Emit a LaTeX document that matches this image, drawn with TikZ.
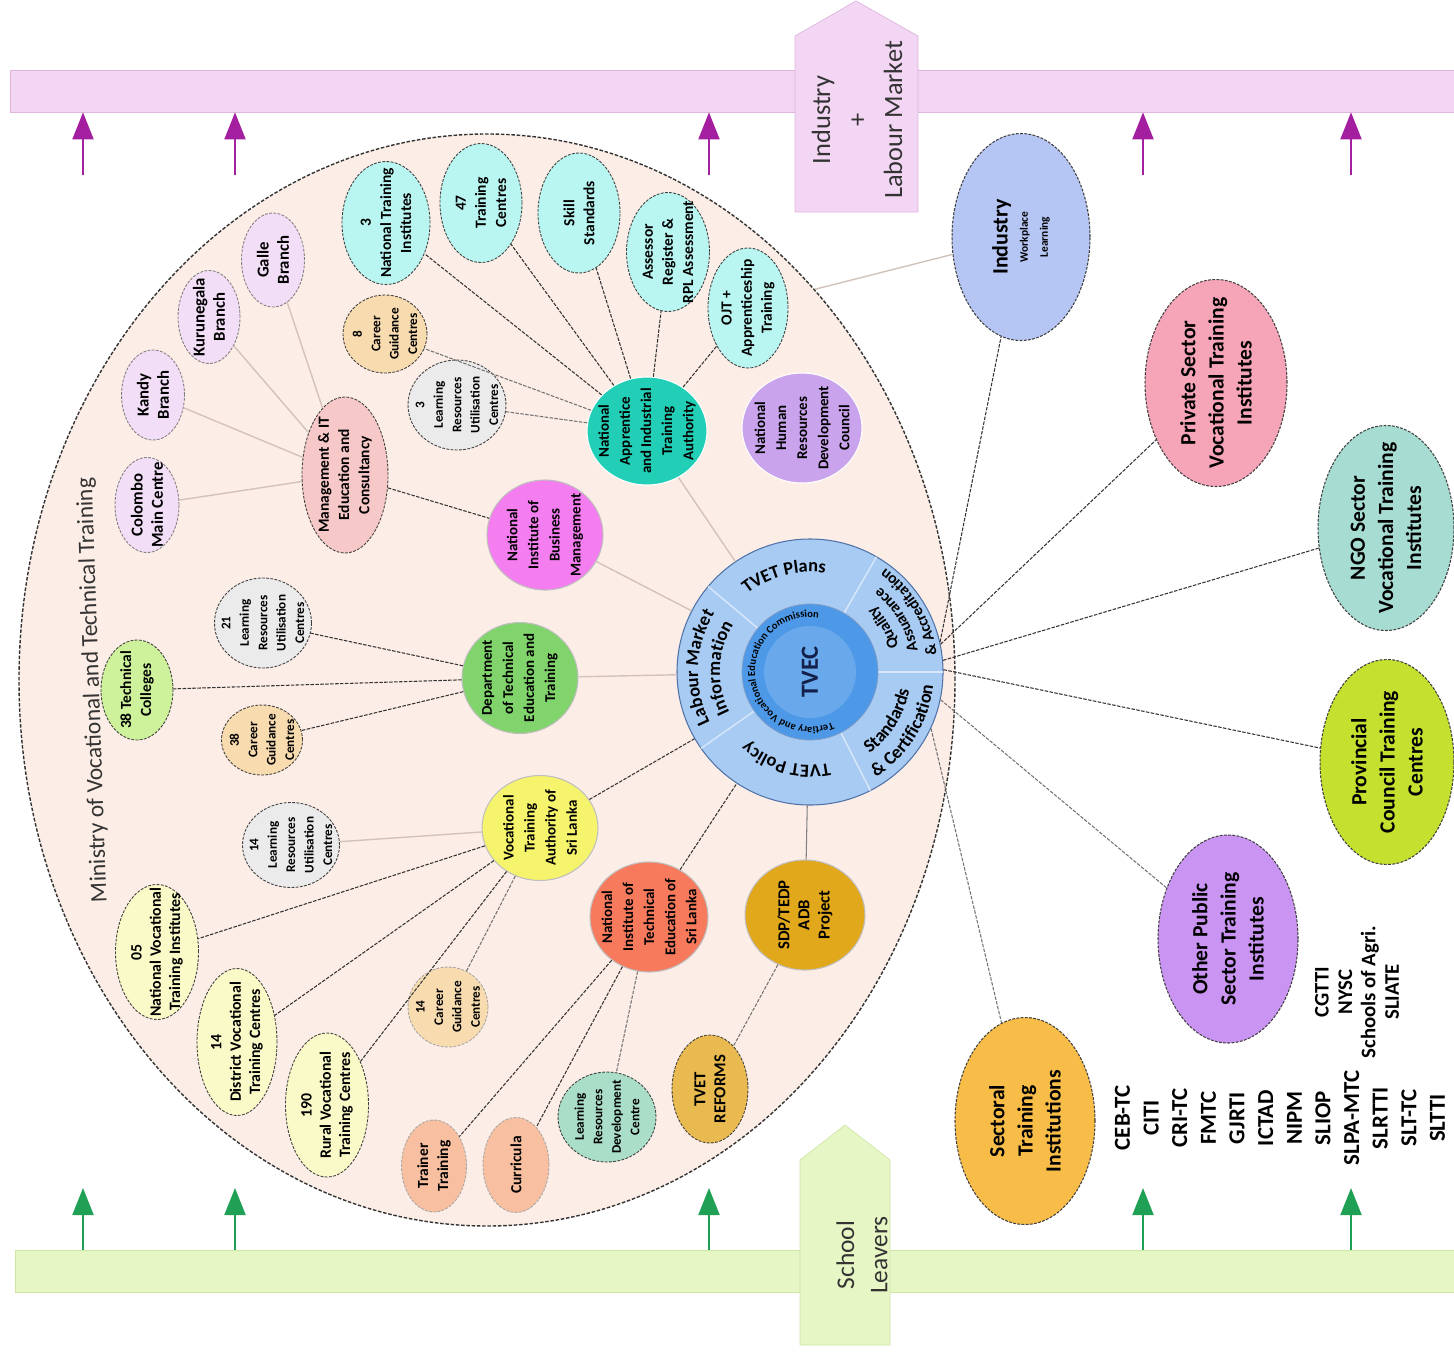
\documentclass[tikz,border=0pt]{standalone}
\usepackage{fontspec}
\setmainfont{Carlito}
\usetikzlibrary{shapes.geometric,arrows.meta,decorations.text}

\definecolor{barpink}{HTML}{F3D6F3}
\definecolor{barpinkline}{HTML}{DDB5DD}
\definecolor{bargreen}{HTML}{E6F6C4}
\definecolor{bargreenline}{HTML}{CFE6A6}
\definecolor{arrpurple}{HTML}{A41EA0}
\definecolor{arrgreen}{HTML}{20A055}
\definecolor{peach}{HTML}{FCEEE6}
\definecolor{branch}{HTML}{F3DEF7}
\definecolor{mgtpink}{HTML}{F7C8C8}
\definecolor{aqua}{HTML}{B9F6F2}
\definecolor{cgcpeach}{HTML}{F8DCAF}
\definecolor{lrucgray}{HTML}{EBEBEB}
\definecolor{naitateal}{HTML}{22CFB6}
\definecolor{hrdclav}{HTML}{C9A3EC}
\definecolor{nibmpink}{HTML}{F47DF0}
\definecolor{tcgreen}{HTML}{CEF29B}
\definecolor{dtetgreen}{HTML}{80D46B}
\definecolor{vtayellow}{HTML}{F6F46C}
\definecolor{paleyellow}{HTML}{FAFAC8}
\definecolor{salmon}{HTML}{F8C0A0}
\definecolor{lrdcteal}{HTML}{AADEC8}
\definecolor{reformgold}{HTML}{E9BA50}
\definecolor{coral}{HTML}{F77A5C}
\definecolor{sdpgold}{HTML}{E2A81C}
\definecolor{ringblue}{HTML}{A8CBF4}
\definecolor{coreblue}{HTML}{4D99E8}
\definecolor{ringline}{HTML}{4F72A8}
\definecolor{navy}{HTML}{14204A}
\definecolor{indblue}{HTML}{B6C6F4}
\definecolor{privpink}{HTML}{F6A4B7}
\definecolor{ngoteal}{HTML}{A7DCD3}
\definecolor{provlime}{HTML}{C5E02F}
\definecolor{opubpurple}{HTML}{CA94F3}
\definecolor{sectorange}{HTML}{F8BD49}
\definecolor{linegray}{HTML}{D2C2BA}

\newcommand\ringfont{\bfseries\fontsize{10.5}{10.5}\selectfont}
\newcommand\ringsmall{\bfseries\fontsize{9}{9}\selectfont}
\newcommand\tinyring{\bfseries\fontsize{6}{6}\selectfont}

\tikzset{
  bar/.style={draw, minimum height=42*0.2mm, inner sep=0pt},
  bartxt/.style={rotate=90, align=center, text=black!80, font=\fontsize{15}{20.5}\selectfont},
  uparrow/.style={line width=0.4mm, -{Triangle[length=5.4mm, width=4.2mm]}},
  org/.style={ellipse, draw=black!75, dash pattern=on 1.6pt off 0.8pt, line width=0.5pt, inner sep=0pt},
  agency/.style={ellipse, draw=black!25, line width=0.6pt, inner sep=0pt},
  outer/.style={ellipse, draw=black!75, dash pattern=on 1.6pt off 0.8pt, line width=0.6pt, inner sep=0pt},
  sz/.style 2 args={minimum width=#1*0.2mm, minimum height=#2*0.2mm},
  tx/.style={rotate=90, align=center, font=\bfseries\fontsize{9.5}{11.5}\selectfont},
  txm/.style={tx, font=\bfseries\fontsize{8.8}{11.5}\selectfont},
  txs/.style={tx, font=\bfseries\fontsize{7.5}{10.5}\selectfont},
  txa/.style={tx, font=\bfseries\fontsize{8.5}{12}\selectfont},
  txv/.style={tx, font=\bfseries\fontsize{9}{11}\selectfont},
  txo/.style={tx, font=\bfseries\fontsize{12.3}{16}\selectfont},
  dk/.style={draw=black!80, dash pattern=on 2pt off 0.8pt, line width=0.6pt},
  md/.style={draw=black!55, dash pattern=on 2pt off 0.8pt, line width=0.6pt},
  lt/.style={draw=linegray, line width=0.8pt},
  divline/.style={draw=white!55!ringblue, line width=0.8pt},
}

\begin{document}
\begin{tikzpicture}[x=0.2mm, y=0.2mm]
\useasboundingbox (0,0) rectangle (1454,-1354);

% bands at top and bottom
\node[bar, fill=barpink, draw=barpinkline, minimum width=1444*0.2mm] (topbar) at (732,-91) {};
\node[bar, fill=bargreen, draw=bargreenline, minimum width=1439*0.2mm] (botbar) at (734.5,-1271) {};

\filldraw[fill=barpink, draw=barpinkline] (795,-212) -- (795,-36) -- (856,-1) -- (918,-36) -- (918,-212) -- cycle;
\node[bartxt] (lm) at (857,-120) {Industry\\+\\Labour Market};
\filldraw[fill=bargreen, draw=bargreenline] (800,-1345) -- (800,-1160) -- (845,-1125) -- (890,-1160) -- (890,-1345) -- cycle;
\node[bartxt, font=\fontsize{14.5}{19}\selectfont] (sl) at (862,-1255) {School\\Leavers};

\foreach \x [count=\i] in {83,235,709,1143,1351} {
  \coordinate (lm\i) at (\x,-175);
  \coordinate (sl\i) at (\x,-1188);
  \draw[uparrow, arrpurple] (lm\i) -- (lm\i |- topbar.south);
  \draw[uparrow, arrgreen] (sl\i |- botbar.north) -- (sl\i);
}

% ministry
\node[ellipse, draw=black!80, dash pattern=on 2pt off 1pt, line width=0.8pt, fill=peach, sz={936}{1092}] (mvtt) at (487,-680) {};
\node[rotate=92, text=black!80, font=\fontsize{13.4}{15}\selectfont] (mvtt-t) at (93,-690) {Ministry of Vocational and Technical Training};

% TVEC wheel
\node[circle, draw=ringline, line width=0.6pt, fill=ringblue, minimum size=266*0.2mm, inner sep=0pt] (tvec) at (810,-672) {};
\foreach \a in {60,0,-63,-145,140}
  \draw[divline] ([shift={(\a:68)}]tvec.center) -- ([shift={(\a:133)}]tvec.center);
\node[circle, draw=ringline!70, fill=coreblue, minimum size=136*0.2mm, inner sep=0pt] (tvecin) at (tvec) {};
\node[circle, fill=coreblue!85!white, minimum size=92*0.2mm, inner sep=0pt] (tveccore) at (tvec) {};
\node[rotate=90, text=navy, font=\bfseries\fontsize{14}{14}\selectfont] (tvec-t) at (tvec) {TVEC};

\path[decorate, decoration={text along path, text align=center, text={|\tinyring|Tertiary and Vocational Education Commission}}]
  ([shift={(-40:55)}]tvec.center) arc[start angle=-40, end angle=-305, radius=55];
\path[decorate, decoration={text along path, text align=center, text={|\ringfont|TVET Plans}}]
  ([shift={(146:100)}]tvec.center) arc[start angle=146, end angle=64, radius=100];
\path[decorate, decoration={text along path, text align=center, text={|\ringfont|Labour Market}}]
  ([shift={(218:112)}]tvec.center) arc[start angle=218, end angle=137, radius=112];
\path[decorate, decoration={text along path, text align=center, text={|\ringfont|Information}}]
  ([shift={(218:90)}]tvec.center) arc[start angle=218, end angle=137, radius=90];
\path[decorate, decoration={text along path, text align=center, text={|\ringsmall|Quality}}]
  ([shift={(-2:92)}]tvec.center) arc[start angle=-2, end angle=64, radius=92];
\path[decorate, decoration={text along path, text align=center, text={|\ringsmall|Assuarance}}]
  ([shift={(-2:110)}]tvec.center) arc[start angle=-2, end angle=64, radius=110];
\path[decorate, decoration={text along path, text align=center, text={|\ringsmall|{\&} Accreditation}}]
  ([shift={(-2:128)}]tvec.center) arc[start angle=-2, end angle=64, radius=128];
\path[decorate, decoration={text along path, text align=center, text={|\ringfont|Standards}}]
  ([shift={(-70:101)}]tvec.center) arc[start angle=-70, end angle=6, radius=101];
\path[decorate, decoration={text along path, text align=center, text={|\ringfont|{\&} Certification}}]
  ([shift={(-70:124)}]tvec.center) arc[start angle=-70, end angle=6, radius=124];
\path[decorate, decoration={text along path, text align=center, text={|\ringfont|TVET Policy}}]
  ([shift={(-55:93)}]tvec.center) arc[start angle=-55, end angle=-155, radius=93];

% management and branches
\node[org, draw=black!50, sz={63}{94}, fill=branch, label={[tx]center:Galle\\Branch}] (galle) at (273,-260) {};
\node[org, draw=black!50, sz={62}{93}, fill=branch, label={[tx]center:Kurunegala\\Branch}] (kuru) at (209,-317) {};
\node[org, draw=black!50, sz={63}{90}, fill=branch, label={[tx]center:Kandy\\Branch}] (kandy) at (153,-395) {};
\node[org, draw=black!50, sz={64}{95}, fill=branch, label={[tx]center:Colombo\\Main Centre}] (colombo) at (147,-505) {};
\node[org, sz={86}{156}, fill=mgtpink, label={[txm]center:Management \& IT\\Education and\\Consultancy}] (mgt) at (345,-475) {};

% NAITA group
\node[org, sz={88}{123}, fill=aqua, label={[txm]center:3\\National Training\\Institutes}] (nti) at (386,-223) {};
\node[org, sz={82}{119}, fill=aqua, label={[txm]center:47\\Training\\Centres}] (tc47) at (481,-203) {};
\node[org, sz={84}{78}, fill=cgcpeach, label={[txs]center:8\\Career\\Guidance\\Centres}] (cgc8) at (385,-334) {};
\node[org, sz={98}{90}, fill=lrucgray, label={[txs]center:3\\Learning\\Resources\\Utilisation\\Centres}] (lruc3) at (457,-405) {};
\node[org, sz={82}{120}, fill=aqua, label={[txm]center:Skill\\Standards}] (skill) at (579,-213) {};
\node[org, sz={83}{119}, fill=aqua, label={[txm]center:Assessor\\Register \&\\RPL Assessment}] (assess) at (668,-252) {};
\node[org, sz={80}{120}, fill=aqua, label={[txm]center:OJT +\\Apprenticeship\\Training}] (ojt) at (748,-308) {};
\node[agency, draw=white, sz={120}{108}, fill=naitateal, label={[txa]center:National\\Apprentice\\and Industrial\\Training\\Authority}] (naita) at (647,-431) {};
\node[agency, draw=white, sz={120}{110}, fill=hrdclav, label={[txa]center:National\\Human\\Resources\\Development\\Council}] (nhrdc) at (802,-428) {};
\node[agency, sz={116}{110}, fill=nibmpink, label={[txa]center:National\\Institute of\\Business\\Management}] (nibm) at (545,-535) {};

% DTET group
\node[org, sz={97}{90}, fill=lrucgray, label={[txs]center:21\\Learning\\Resources\\Utilisation\\Centres}] (lruc21) at (263,-623) {};
\node[org, sz={72}{100}, fill=tcgreen, label={[txm]center:38 Technical\\Colleges}] (tc38) at (137,-690) {};
\node[org, sz={81}{70}, fill=cgcpeach, label={[txs]center:38\\Career\\Guidance\\Centres}] (cgc38) at (262,-740) {};
\node[agency, sz={116}{111}, fill=dtetgreen, label={[txa]center:Department\\of Technical\\Education and\\Training}] (dtet) at (520,-678) {};

% VTA group
\node[org, sz={97}{85}, fill=lrucgray, label={[txs]center:14\\Learning\\Resources\\Utilisation\\Centres}] (lruc14) at (291,-845) {};
\node[agency, sz={116}{105}, fill=vtayellow, label={[txa]center:Vocational\\Training\\Authority of\\Sri Lanka}] (vta) at (540,-828) {};
\node[org, sz={83}{135}, fill=paleyellow, label={[txv]center:05\\National Vocational\\Training Institutes}] (nvti) at (157,-952) {};
\node[org, sz={80}{147}, fill=paleyellow, label={[txv]center:14\\District Vocational\\Training Centres}] (dvtc) at (237,-1042) {};
\node[org, sz={83}{144}, fill=paleyellow, label={[txv]center:190\\Rural Vocational\\Training Centres}] (rvtc) at (327,-1105) {};
\node[org, draw=black!35, sz={80}{80}, fill=cgcpeach, label={[txs]center:14\\Career\\Guidance\\Centres}] (cgc14) at (448,-1007) {};

% NITESL group
\node[org, draw=black!35, sz={65}{92}, fill=salmon, label={[txm]center:Trainer\\Training}] (trainer) at (434,-1166) {};
\node[org, draw=black!35, sz={66}{95}, fill=salmon, label={[txm]center:Curricula}] (curric) at (516,-1165) {};
\node[org, sz={98}{90}, fill=lrdcteal, label={[txs]center:Learning\\Resources\\Development\\Centre}] (lrdc) at (607,-1117) {};
\node[org, sz={76}{108}, fill=reformgold, label={[tx]center:TVET\\REFORMS}] (reforms) at (710,-1089) {};
\node[agency, sz={118}{110}, fill=coral, label={[txa]center:National\\Institute of\\Technical\\Education of\\Sri Lanka}] (nitesl) at (649,-917) {};
\node[agency, sz={120}{110}, fill=sdpgold, label={[tx]center:SDP/TEDP\\ADB\\Project}] (sdp) at (805,-915) {};

% outside the ministry
\node[outer, sz={138}{207}, fill=indblue, label={[tx]center:{\fontsize{12.5}{14}\selectfont Industry}\\{\fontsize{6.5}{8}\selectfont Workplace}\\{\fontsize{6.5}{8}\selectfont Learning}}] (ind) at (1021,-237) {};
\node[outer, sz={142}{207}, fill=privpink, label={[txo]center:Private Sector\\Vocational Training\\Institutes}] (priv) at (1216,-383) {};
\node[outer, sz={136}{205}, fill=ngoteal, label={[txo]center:NGO Sector\\Vocational Training\\Institutes}] (ngo) at (1386,-528) {};
\node[outer, sz={134}{205}, fill=provlime, label={[txo]center:Provincial\\Council Training\\Centres}] (prov) at (1387,-762) {};
\node[outer, sz={140}{208}, fill=opubpurple, label={[txo]center:Other Public\\Sector Training\\Institutes}] (opub) at (1228,-939) {};
\node[outer, sz={140}{207}, fill=sectorange, label={[txo]center:Sectoral\\Training\\Institutions}] (sect) at (1025,-1121) {};

\node[rotate=90, align=center, font=\bfseries\fontsize{11.8}{13.3}\selectfont] (opub-l) at (1357,-992) {CGTTI\\NYSC\\Schools of Agri.\\SLIATE};
\node[rotate=90, align=center, font=\bfseries\fontsize{13}{16.3}\selectfont] (sect-l) at (1280,-1118)
  {CEB-TC\\CITI\\CRI-TC\\FMTC\\GJRTI\\ICTAD\\NIPM\\SLIOP\\SLPA-MTC\\SLRTTI\\SLT-TC\\SLTTI};

% links
\path[lt] (mgt) edge (colombo) (mgt) edge (kandy) (mgt) edge (kuru) (mgt) edge (galle);
\path[dk] (mgt) edge (nibm);
\path[dk] (naita) edge (nti) (naita) edge (tc47) (naita) edge (skill) (naita) edge (assess) (naita) edge (ojt);
\path[md] (naita) edge (cgc8) (naita) edge (lruc3);
\path[lt] (naita) edge (tvec) (nibm) edge (tvec) (dtet) edge (tvec);
\path[dk] (dtet) edge (lruc21) (dtet) edge (tc38) (dtet) edge (cgc38);
\path[dk] (vta) edge (tvec) (vta) edge (nvti) (vta) edge (dvtc) (vta) edge (rvtc);
\path[md] (vta) edge (cgc14);
\path[lt] (vta) edge (lruc14);
\path[dk] (nitesl) edge (tvec) (nitesl) edge (trainer) (nitesl) edge (curric);
\path[md] (nitesl) edge (lrdc) (sdp) edge (reforms);
\path[draw=black!50, line width=0.6pt] (sdp) edge (tvec);

\path[lt] (mvtt.50) edge (ind);
\path[dk] (tvec.13) edge (ind) (tvec.12) edge (priv) (tvec.5) edge (ngo) (tvec.1) edge (prov);
\path[md] (tvec.348) edge (opub) (tvec.335) edge (sect);
\end{tikzpicture}
\end{document}
